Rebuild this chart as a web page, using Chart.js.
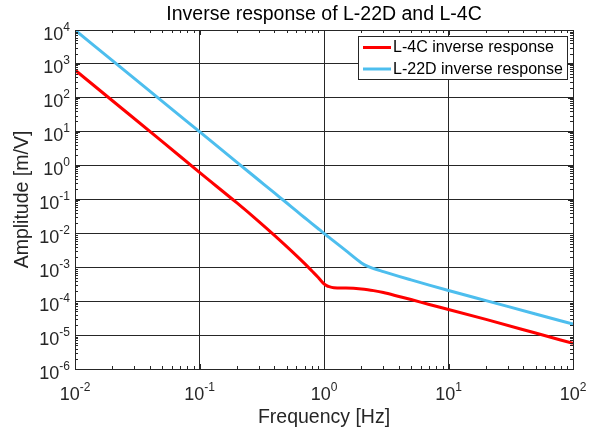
<!DOCTYPE html>
<html lang="en">

<head>
    <meta charset="UTF-8">
    <script src="https://cdn.jsdelivr.net/npm/chart.js@4.4.1/dist/chart.umd.min.js"></script>
    <title>Inverse response</title>
    <style>
        html, body { margin: 0; padding: 0; background: #fff; }
        #wrap { width: 602px; height: 433px; }
    </style>
</head>

<body>
    <div id="wrap"><canvas id="c"></canvas></div>

    <script>
        // frequencies in Hz (m/V)
        const freqs = [0.01, 0.02, 0.05, 0.1, 0.2, 0.3, 0.4, 0.5, 0.6, 0.7, 0.8, 0.9, 0.95, 1, 1.05, 1.1, 1.2, 1.5, 2, 2.25, 2.5, 3, 4, 5, 7, 10, 20, 50, 100]
        const l4c = [660, 82, 5.2, 0.63, 0.079, 0.0223, 0.00875, 0.00414, 0.00221, 0.00128, 7.8e-4, 5.0e-4, 3.95e-4, 3.25e-4, 2.88e-4, 2.68e-4, 2.5e-4, 2.45e-4, 2.3e-4, 2.18e-4, 2.05e-4, 1.8e-4, 1.38e-4, 1.12e-4, 8.0e-5, 5.7e-5, 2.9e-5, 1.15e-5, 5.7e-6]
        const l22d = [1e4, 1250, 80, 10, 1.25, 0.37, 0.156, 0.08, 0.046, 0.029, 0.0194, 0.0137, 0.0117, 0.0100, 0.0087, 0.0076, 0.0059, 0.0031, 0.00135, 0.00106, 9.2e-4, 7.45e-4, 5.4e-4, 4.25e-4, 2.98e-4, 2.07e-4, 1.04e-4, 4.2e-5, 2.1e-5]
        const seriesNames = ['L-4C inverse response', 'L-22D inverse response']
        const seriesColors = ['#ff0000', '#4dbeee']
        const xDecades = [-2, -1, 0, 1, 2]
        const yDecades = [-6, -5, -4, -3, -2, -1, 0, 1, 2, 3, 4]

        const FONT = '"Liberation Sans", Arial, sans-serif'
        const AXIS = '#262626'

        function logTicks(decades) {
            let out = []
            for (let i = 0; i < decades.length; i++) {
                let base = Math.pow(10, decades[i])
                out.push({ value: base, major: true })
                if (i < decades.length - 1) {
                    for (let m = 2; m <= 9; m++) out.push({ value: m * base, major: false })
                }
            }
            return out
        }

        function isDecade(v) {
            let l = Math.log10(v)
            return Math.abs(l - Math.round(l)) < 1e-9
        }

        // box, inward ticks, 10^n labels and the legend, drawn the matlab way
        const matlabAxes = {
            id: 'matlabAxes',
            afterDraw(chart) {
                const { ctx, chartArea: a, scales } = chart
                const xs = scales.x, ys = scales.y
                ctx.save()
                ctx.strokeStyle = AXIS
                ctx.lineWidth = 1

                ctx.beginPath()
                for (const t of xs.ticks) {
                    let px = Math.round(xs.getPixelForValue(t.value)) + 0.5
                    let len = t.major ? 5 : 3
                    ctx.moveTo(px, a.bottom); ctx.lineTo(px, a.bottom - len)
                    ctx.moveTo(px, a.top); ctx.lineTo(px, a.top + len)
                }
                for (const t of ys.ticks) {
                    let py = Math.round(ys.getPixelForValue(t.value)) + 0.5
                    let len = t.major ? 5 : 3
                    ctx.moveTo(a.left, py); ctx.lineTo(a.left + len, py)
                    ctx.moveTo(a.right, py); ctx.lineTo(a.right - len, py)
                }
                ctx.stroke()
                ctx.strokeRect(Math.round(a.left) + 0.5, Math.round(a.top) + 0.5,
                    Math.round(a.right - a.left), Math.round(a.bottom - a.top))

                ctx.fillStyle = AXIS
                ctx.textBaseline = 'alphabetic'
                const big = '18px ' + FONT, small = '12px ' + FONT

                for (const e of yDecades) {
                    let py = ys.getPixelForValue(Math.pow(10, e))
                    let exp = String(e)
                    ctx.font = small
                    let ew = ctx.measureText(exp).width
                    ctx.textAlign = 'right'
                    ctx.fillText(exp, 70, py + 0.5)
                    ctx.font = big
                    ctx.fillText('10', 70 - ew, py + 9.5)
                }

                for (const e of xDecades) {
                    let px = xs.getPixelForValue(Math.pow(10, e))
                    let exp = String(e)
                    ctx.font = small
                    let ew = ctx.measureText(exp).width
                    ctx.font = big
                    let bw = ctx.measureText('10').width
                    let start = px - (bw + ew) / 2
                    ctx.textAlign = 'left'
                    ctx.fillText('10', start, 399.5)
                    ctx.font = small
                    ctx.fillText(exp, start + bw, 390.5)
                }

                // legend
                const lx = 358.5, ly = 36.5, lw = 209, lh = 43
                ctx.fillStyle = '#fff'
                ctx.fillRect(lx, ly, lw, lh)
                ctx.strokeStyle = AXIS
                ctx.strokeRect(lx, ly, lw, lh)
                ctx.font = '16px ' + FONT
                ctx.textAlign = 'left'
                ctx.textBaseline = 'middle'
                chart.data.datasets.forEach((ds, i) => {
                    let rowY = 47.5 + i * 21.5
                    ctx.strokeStyle = ds.borderColor
                    ctx.lineWidth = 3
                    ctx.beginPath()
                    ctx.moveTo(363, rowY); ctx.lineTo(391, rowY)
                    ctx.stroke()
                    ctx.fillStyle = '#000'
                    ctx.fillText(ds.label, 393, rowY + 0.5)
                })
                ctx.restore()
            }
        }

        const datasets = [l4c, l22d].map((vals, i) => ({
            label: seriesNames[i],
            data: freqs.map((f, j) => ({ x: f, y: vals[j] })),
            borderColor: seriesColors[i],
            borderWidth: 3,
            pointRadius: 0,
            fill: false,
            cubicInterpolationMode: 'monotone'
        }))

        new Chart(document.getElementById('c'), {
            type: 'line',
            data: { datasets },
            options: {
                responsive: true,
                maintainAspectRatio: false,
                animation: false,
                layout: { padding: { left: 0, right: 29, top: 0, bottom: 0 } },
                plugins: {
                    legend: { display: false },
                    tooltip: { enabled: false },
                    title: {
                        display: true,
                        fullSize: false,
                        text: 'Inverse response of L-22D and L-4C',
                        color: '#000',
                        font: { family: FONT, size: 19.5, weight: 'normal' },
                        padding: { top: 3, bottom: 3.6 }
                    }
                },
                scales: {
                    x: {
                        type: 'logarithmic',
                        min: 0.01,
                        max: 100,
                        afterBuildTicks: s => { s.ticks = logTicks(xDecades) },
                        afterFit: s => { s.height = 64 },
                        ticks: { display: false },
                        border: { display: false },
                        grid: {
                            drawTicks: false,
                            lineWidth: 1,
                            color: c => (c.tick && isDecade(c.tick.value)) ? AXIS : 'rgba(0,0,0,0)'
                        },
                        title: {
                            display: true,
                            text: 'Frequency [Hz]',
                            color: AXIS,
                            font: { family: FONT, size: 19.5 },
                            padding: { top: 0, bottom: 4 }
                        }
                    },
                    y: {
                        type: 'logarithmic',
                        min: 1e-6,
                        max: 1e4,
                        afterBuildTicks: s => { s.ticks = logTicks(yDecades) },
                        afterFit: s => { s.width = 75 },
                        ticks: { display: false },
                        border: { display: false },
                        grid: {
                            drawTicks: false,
                            lineWidth: 1,
                            color: c => (c.tick && isDecade(c.tick.value)) ? AXIS : 'rgba(0,0,0,0)'
                        },
                        title: {
                            display: true,
                            text: 'Amplitude [m/V]',
                            color: AXIS,
                            font: { family: FONT, size: 19.5 },
                            padding: { top: 10.5, bottom: 0 }
                        }
                    }
                }
            },
            plugins: [matlabAxes]
        })
    </script>
</body>

</html>
